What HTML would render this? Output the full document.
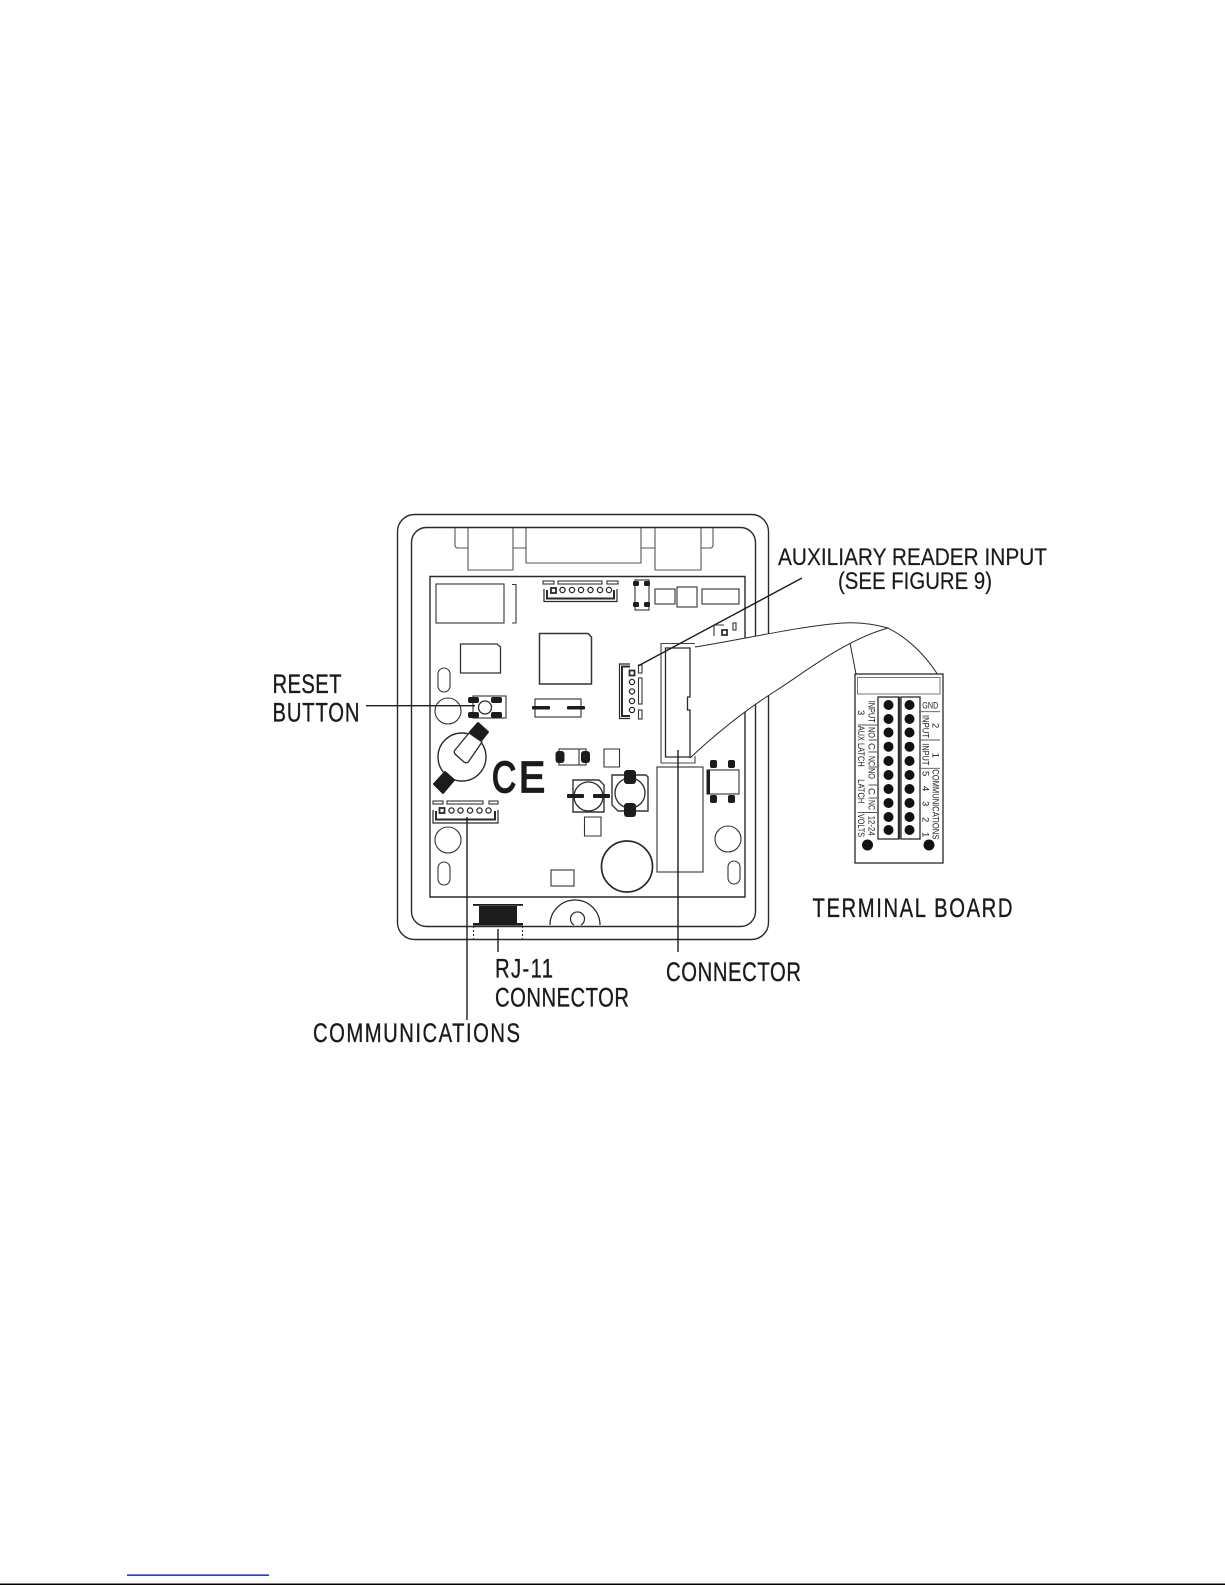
<!DOCTYPE html>
<html><head><meta charset="utf-8"><title>Terminal board diagram</title>
<style>
html,body{margin:0;padding:0;background:#fff;width:1225px;height:1585px;overflow:hidden}
svg{display:block}
text{font-family:"Liberation Sans",sans-serif;fill:#1a1a1a}
.l{font-size:27px;stroke:#1a1a1a;stroke-width:.35}
.s{font-size:9.5px}
</style></head><body>
<svg width="1225" height="1585" viewBox="0 0 1225 1585" xmlns="http://www.w3.org/2000/svg">
<rect x="0" y="0" width="1225" height="1585" fill="#fff"/>
<g fill="none" stroke="#2a2a2a" stroke-width="1.4">
<!-- housing -->
<rect x="397.5" y="514.5" width="371" height="425" rx="17"/>
<rect x="411.5" y="527.5" width="344" height="399" rx="15"/>
<!-- hinges -->
<g stroke="#555" stroke-width="1.1">
<path d="M455 528V545q0 3 3 3H468M468 528V570H513V528M513 548H526M526 528V563H641V528M641 548H655M655 528V570H701V528M701 548H710q3 0 3-3V528"/>
</g>
<!-- board -->
<path d="M430 576.5H745V897H430Z"/>
<g stroke="#333" stroke-width="1.1">
<rect x="436" y="584" width="68" height="39"/>
<path d="M512 584.5H516V623H512"/>
<path d="M460.5 644H497L500.5 647V673H460.5Z" stroke-width="1.3"/>
<path d="M539.5 633.5H588L591.5 637V684H539.5Z" stroke-width="1.5"/>
<rect x="438" y="668" width="12" height="24" rx="6"/>
<circle cx="448" cy="711" r="13"/>
<rect x="543" y="581" width="11" height="3"/>
<rect x="558" y="581" width="44" height="3"/>
<rect x="607" y="581" width="11" height="3"/>
<rect x="635" y="580" width="14" height="30"/>
<rect x="655" y="589" width="20" height="15"/>
<rect x="677" y="587" width="20" height="20"/>
<rect x="702" y="589" width="37" height="15"/>
<rect x="535" y="699" width="46" height="18"/>
<rect x="473" y="696" width="33" height="22"/>
<rect x="559" y="749" width="27" height="16"/>
<path d="M579 749V765"/>
<path d="M604 749H619.5V767H604Z"/>
<path d="M573 780H599L604 785V812H573Z" stroke-width="1.4"/>
<path d="M612 775H646L648 777V811H618L612 805Z" stroke-width="1.4"/>
<path d="M584.5 817H601V836H584.5Z"/>
<rect x="551" y="870" width="23" height="16"/>
<rect x="657" y="767" width="46" height="105"/>
<rect x="707" y="770" width="32" height="24"/>
<circle cx="448" cy="840" r="13"/>
<rect x="438" y="862" width="12" height="23" rx="6"/>
<circle cx="728" cy="839" r="13"/>
<rect x="728" y="861" width="12" height="23" rx="6"/>
<rect x="433" y="801" width="10" height="3"/>
<rect x="447" y="801" width="36" height="3"/>
<rect x="489" y="801" width="9" height="3"/>
<rect x="638.5" y="665" width="3.5" height="8"/>
<rect x="638.5" y="678" width="3.5" height="26"/>
<rect x="638.5" y="710" width="3.5" height="9"/>
<path d="M714 636V625H724"/>
<rect x="733" y="623" width="3" height="7"/>
<rect x="722" y="630" width="5" height="5" stroke-width="1.8"/>
</g>
<!-- top connector -->
<path d="M544 589V601.5H617V589" stroke-width="1.2"/>
<path d="M547 590V598.5H614V590" stroke-width="2"/>
<g stroke-width="1.3" fill="#fff">
<rect x="551" y="588" width="5" height="5" stroke-width="1.8"/>
<circle cx="562.5" cy="590" r="2.6"/><circle cx="572" cy="590" r="2.6"/><circle cx="581" cy="590" r="2.6"/><circle cx="590.5" cy="590" r="2.6"/><circle cx="600" cy="590" r="2.6"/><circle cx="609" cy="590" r="2.6"/>
</g>
<!-- aux connector -->
<path d="M630 664H619.5V718.5H630" stroke-width="1.2"/>
<path d="M630 666.5H622V716H630" stroke-width="2"/>
<g stroke-width="1.3" fill="#fff">
<rect x="629.5" y="670.5" width="5" height="5" stroke-width="1.8"/>
<circle cx="632" cy="682" r="2.6"/><circle cx="632" cy="691.5" r="2.6"/><circle cx="632" cy="701" r="2.6"/><circle cx="632" cy="710" r="2.6"/>
</g>
<!-- comm connector -->
<path d="M433 810V823H498V810" stroke-width="1.2"/>
<path d="M436 811V819.5H495V811" stroke-width="2"/>
<g stroke-width="1.3" fill="#fff">
<rect x="439.5" y="808" width="5" height="5" stroke-width="1.8"/>
<circle cx="451.5" cy="810.5" r="2.6"/><circle cx="460.5" cy="810.5" r="2.6"/><circle cx="470" cy="810.5" r="2.6"/><circle cx="479.5" cy="810.5" r="2.6"/><circle cx="488.5" cy="810.5" r="2.6"/>
</g>
<!-- round parts -->
<circle cx="627" cy="866.5" r="25.5" stroke-width="1.7"/>
<circle cx="588.5" cy="796.5" r="14.5" stroke-width="1.3"/>
<circle cx="630" cy="793" r="15" stroke-width="1.3"/>
<circle cx="485" cy="707.5" r="6.5" stroke-width="1.3"/>
<path d="M550 925A25 25 0 0 1 600 925" stroke-width="1.3"/>
<path d="M574 925A7 7 0 1 1 581 925" stroke-width="1.2"/>
<!-- battery -->
<circle cx="462" cy="757" r="24" stroke-width="1.4"/>
</g>
<!-- pads -->
<g fill="#1c1c1c">
<rect x="633" y="581" width="6" height="5" rx="1.5"/><rect x="644" y="581" width="6" height="5" rx="1.5"/>
<rect x="633" y="602" width="6" height="5" rx="1.5"/><rect x="644" y="602" width="6" height="5" rx="1.5"/>
<rect x="468" y="697" width="11" height="6" rx="2"/><rect x="491" y="697" width="11" height="6" rx="2"/>
<rect x="468" y="712" width="11" height="6" rx="2"/><rect x="491" y="712" width="11" height="6" rx="2"/>
<rect x="532" y="706" width="18" height="3.5" rx="1"/><rect x="567" y="706" width="18" height="3.5" rx="1"/>
<rect x="555.5" y="751" width="9" height="12" rx="3"/><rect x="581" y="751" width="9" height="12" rx="3"/>
<rect x="567" y="794" width="17" height="4" rx="1"/><rect x="593" y="794" width="17" height="4" rx="1"/>
<rect x="624" y="770" width="12" height="14" rx="3"/><rect x="624" y="803" width="12" height="14" rx="3"/>
<rect x="710" y="760" width="7" height="8" rx="2"/><rect x="728" y="760" width="7" height="8" rx="2"/>
<rect x="710" y="795" width="7" height="8" rx="2"/><rect x="728" y="795" width="7" height="8" rx="2"/>
<rect x="707" y="770" width="3" height="24"/>
<path d="M470 732L478 723L488 732L480 742Z" stroke="#1c1c1c" stroke-width="2" stroke-linejoin="round"/>
<path d="M434 784L445 772L454 780L443 793Z" stroke="#1c1c1c" stroke-width="2" stroke-linejoin="round"/>
<!-- RJ11 -->
<rect x="479" y="906" width="38" height="18"/>
<rect x="473" y="904" width="50" height="1.8"/>
<rect x="473" y="923" width="50" height="2.5"/>
</g>
<path d="M469 733L482 742L469 761Q467 764 464 762L456 755Q453 752 455 750Z" fill="#fff" stroke="#2a2a2a" stroke-width="1.3" stroke-linejoin="round"/>
<path d="M473.5 926V939M522.5 926V939" stroke="#333" stroke-width="1.1" stroke-dasharray="2 2" fill="none"/>
<!-- ribbon fill and edge -->
<path d="M690 648H695C740 640 800 626 843 623C858 622 874 624 888 628C845 640 805 672 777 690C750 707 720 730 690 758Z" fill="#fff"/>
<g fill="none" stroke="#2a2a2a" stroke-width="1">
<path d="M695 647C740 640 800 626 843 623C858 622 874 624 888 628C908 638 926 656 938 675"/>
<path d="M690 758C720 730 750 707 777 690C805 672 845 640 888 628"/>
<path d="M850 643L856 674"/>
</g>
<!-- header connector -->
<g fill="none" stroke="#444" stroke-width="1.1">
<path d="M661 763V643.5H695M695 756V763H661"/>
</g>
<g fill="none" stroke="#2a2a2a" stroke-width="1.3">
<path d="M665.5 757V648H690V697H687.5V710H690V757Z" fill="#fff"/>
</g>
<!-- terminal board -->
<g fill="none" stroke="#2a2a2a">
<rect x="855" y="674" width="88" height="189" fill="#fff" stroke-width="1.3"/>
<rect x="857.5" y="677.5" width="82.5" height="16.5" stroke="#777" stroke-width="1"/>
<rect x="878" y="697" width="21" height="142" stroke-width="1.3"/>
<rect x="901" y="697" width="19" height="142" stroke-width="1.3"/>
<path d="M899 697V839" stroke-width="2.4"/>
<g stroke="#555" stroke-width=".9">
<path d="M858 725H878M858 812.5H878M868.5 740H877M868.5 752H877M868.5 767H877M868.5 785H877M868.5 798H877M921 711.7H940M921 740H940M921 768.3H940"/>
</g>
</g>
<g fill="#111">
<circle cx="888.5" cy="705" r="5"/><circle cx="888.5" cy="719" r="5"/><circle cx="888.5" cy="732.5" r="5"/><circle cx="888.5" cy="746.7" r="5"/><circle cx="888.5" cy="761" r="5"/><circle cx="888.5" cy="775" r="5"/><circle cx="888.5" cy="789" r="5"/><circle cx="888.5" cy="803" r="5"/><circle cx="888.5" cy="817" r="5"/><circle cx="888.5" cy="830" r="5"/>
<circle cx="909.5" cy="705" r="5"/><circle cx="909.5" cy="719" r="5"/><circle cx="909.5" cy="732.5" r="5"/><circle cx="909.5" cy="746.7" r="5"/><circle cx="909.5" cy="761" r="5"/><circle cx="909.5" cy="775" r="5"/><circle cx="909.5" cy="789" r="5"/><circle cx="909.5" cy="803" r="5"/><circle cx="909.5" cy="817" r="5"/><circle cx="909.5" cy="830" r="5"/>
<circle cx="867.5" cy="845" r="5.5"/><circle cx="929" cy="845" r="5.5"/>
</g>
<!-- leaders -->
<g fill="none" stroke="#1c1c1c" stroke-width="1.4">
<path d="M366 705.7H475"/>
<path d="M802 578L638 666"/>
<path d="M467 817V1020"/>
<path d="M498 929V952"/>
<path d="M678 750V952"/>
</g>
<!-- CE -->
<text x="492" y="792" font-size="44" textLength="24" lengthAdjust="spacingAndGlyphs" stroke="#1a1a1a" stroke-width="1.8">C</text>
<text x="519" y="792" font-size="44" textLength="26" lengthAdjust="spacingAndGlyphs" stroke="#1a1a1a" stroke-width="1.8">E</text>
<!-- labels -->
<text class="l" x="778" y="565" textLength="269" lengthAdjust="spacingAndGlyphs" style="font-size:24px;stroke-width:.2">AUXILIARY READER INPUT</text>
<text class="l" x="838" y="589" textLength="154" lengthAdjust="spacingAndGlyphs" style="font-size:24px;stroke-width:.2">(SEE FIGURE 9)</text>
<text class="l" transform="translate(272.5,693) scale(.75,1)" textLength="92" lengthAdjust="spacing">RESET</text>
<text class="l" transform="translate(272.5,721.5) scale(.75,1)" textLength="116" lengthAdjust="spacing">BUTTON</text>
<text class="l" transform="translate(812.5,917) scale(.75,1)" textLength="266.7" lengthAdjust="spacing">TERMINAL BOARD</text>
<text class="l" transform="translate(495,977.5) scale(.75,1)" textLength="77.3" lengthAdjust="spacing">RJ-11</text>
<text class="l" transform="translate(495,1006.5) scale(.75,1)" textLength="178.7" lengthAdjust="spacing">CONNECTOR</text>
<text class="l" transform="translate(666,981) scale(.75,1)" textLength="180" lengthAdjust="spacing">CONNECTOR</text>
<text class="l" transform="translate(313,1042) scale(.75,1)" textLength="276" lengthAdjust="spacing">COMMUNICATIONS</text>
<!-- terminal labels -->
<g class="s">
<text class="s" transform="translate(868.7,700.7) rotate(90)" textLength="22" lengthAdjust="spacingAndGlyphs">INPUT</text>
<text class="s" transform="translate(858,710) rotate(90)">3</text>
<text class="s" transform="translate(868.7,727) rotate(90)" textLength="11" lengthAdjust="spacingAndGlyphs">NO</text>
<text class="s" transform="translate(868.7,743) rotate(90)">C</text>
<text class="s" transform="translate(868.7,756) rotate(90)" textLength="10" lengthAdjust="spacingAndGlyphs">NC</text>
<text class="s" transform="translate(868.7,768) rotate(90)" textLength="11" lengthAdjust="spacingAndGlyphs">NO</text>
<text class="s" transform="translate(868.7,788) rotate(90)">C</text>
<text class="s" transform="translate(868.7,800) rotate(90)" textLength="10" lengthAdjust="spacingAndGlyphs">NC</text>
<text class="s" transform="translate(868.7,815.7) rotate(90)" textLength="20" lengthAdjust="spacingAndGlyphs">12-24</text>
<text class="s" transform="translate(858,725.7) rotate(90)" textLength="41" lengthAdjust="spacingAndGlyphs">AUX LATCH</text>
<text class="s" transform="translate(858,779.3) rotate(90)" textLength="24" lengthAdjust="spacingAndGlyphs">LATCH</text>
<text class="s" transform="translate(858,814) rotate(90)" textLength="23" lengthAdjust="spacingAndGlyphs">VOLTS</text>
<text class="s" x="922.3" y="708.7" textLength="16" lengthAdjust="spacingAndGlyphs">GND</text>
<text class="s" transform="translate(922.3,715) rotate(90)" textLength="23" lengthAdjust="spacingAndGlyphs">INPUT</text>
<text class="s" transform="translate(932.3,723) rotate(90)">2</text>
<text class="s" transform="translate(922.3,743.3) rotate(90)" textLength="22" lengthAdjust="spacingAndGlyphs">INPUT</text>
<text class="s" transform="translate(932.3,752.7) rotate(90)">1</text>
<text class="s" transform="translate(922.3,771) rotate(90)">5</text>
<text class="s" transform="translate(922.3,786) rotate(90)">4</text>
<text class="s" transform="translate(922.3,801) rotate(90)">3</text>
<text class="s" transform="translate(922.3,817) rotate(90)">2</text>
<text class="s" transform="translate(922.3,832) rotate(90)">1</text>
<text class="s" transform="translate(932.3,769.3) rotate(90)" textLength="70" lengthAdjust="spacingAndGlyphs">COMMUNICATIONS</text>
</g>
<!-- footer -->
<rect x="127" y="1574.5" width="142" height="1.3" fill="#0000cc"/>
<rect x="0" y="1583.5" width="1225" height="1.5" fill="#000"/>
</svg>
</body></html>
